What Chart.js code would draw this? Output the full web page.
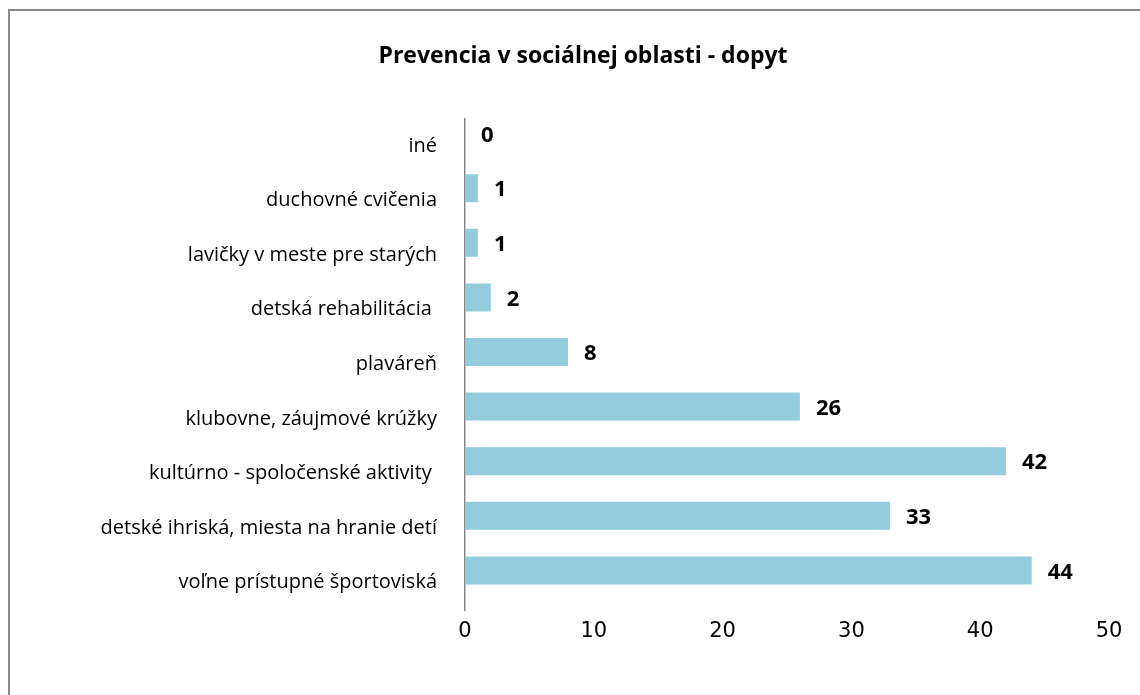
<!DOCTYPE html>
<html>
<head>
<meta charset="utf-8">
<script src="https://cdn.jsdelivr.net/npm/chart.js@4"></script>
<style>
    html, body { margin: 0; padding: 0; background: #fff; overflow: hidden; }
    #frame {
        position: absolute; left: 8px; top: 9px; width: 1300px; height: 800px;
        border-left: 2px solid #878787; border-top: 2px solid #878787;
    }
    #wrap { position: absolute; left: 0; top: 0; width: 1140px; height: 695px; }
</style>
</head>
<body>
<div id="frame"></div>
<div id="wrap"><canvas id="demandChart"></canvas></div>
<script>
// prevencia - dopyt
const activities = [
    "iné",
    "duchovné cvičenia",
    "lavičky v meste pre starých",
    "detská rehabilitácia ",
    "plaváreň",
    "klubovne, záujmové krúžky",
    "kultúrno - spoločenské aktivity ",
    "detské ihriská, miesta na hranie detí",
    "voľne prístupné športoviská"
];
const demand = [0, 1, 1, 2, 8, 26, 42, 33, 44];
const emptySeries = [null, null, null, null, null, null, null, null, null];
const xTicksMin = 0;
const xTicksMax = 50;
const xTicksStep = 10;
const chartTitle = "Prevencia v sociálnej oblasti - dopyt";

const textFont = "'Open Sans', Lato, sans-serif";

// numbers printed next to each bar
const valueLabels = {
    id: 'valueLabels',
    afterDatasetsDraw(chart) {
        const ctx = chart.ctx;
        const meta = chart.getDatasetMeta(0);
        ctx.save();
        ctx.font = 'bold 22px ' + textFont;
        ctx.fillStyle = '#000';
        ctx.textAlign = 'left';
        ctx.textBaseline = 'middle';
        meta.data.forEach((bar, i) => {
            ctx.fillText(String(demand[i]), bar.x + 16, bar.y + 2);
        });
        ctx.restore();
    }
};

function createChart() {
    const ctx = document.getElementById('demandChart').getContext('2d');

    new Chart(ctx, {
        type: 'bar',
        data: {
            labels: activities,
            datasets: [{
                label: 'dopyt',
                data: demand,
                backgroundColor: '#93cddd',
                borderWidth: 0,
                categoryPercentage: 0.9,
                barPercentage: 1.14
            }, {
                // empty second series, keeps the bars in the upper half of each row
                label: '',
                data: emptySeries,
                backgroundColor: '#93cddd',
                categoryPercentage: 0.9,
                barPercentage: 1.14
            }]
        },
        options: {
            indexAxis: 'y',
            responsive: true,
            maintainAspectRatio: false,
            animation: false,
            layout: {
                padding: { left: 57, right: 31, top: 30, bottom: 0 }
            },
            plugins: {
                legend: { display: false },
                tooltip: { enabled: false },
                title: {
                    display: true,
                    text: chartTitle,
                    color: '#000',
                    font: { family: textFont, size: 23, weight: 'bold' },
                    padding: { top: 13, bottom: 48 }
                }
            },
            scales: {
                x: {
                    min: xTicksMin,
                    max: xTicksMax,
                    grid: { display: false, drawTicks: false },
                    border: { display: false },
                    ticks: {
                        stepSize: xTicksStep,
                        color: '#000',
                        padding: 9,
                        font: { family: "'DejaVu Sans', sans-serif", size: 21 }
                    },
                    afterFit(scale) { scale.height = 85; }
                },
                y: {
                    grid: { display: false, drawTicks: false },
                    border: { display: true, color: '#868686', width: 1.5 },
                    ticks: {
                        color: '#000',
                        padding: 28,
                        font: { family: textFont, size: 20 }
                    },
                    afterFit(scale) { scale.width = 408; }
                }
            }
        },
        plugins: [valueLabels]
    });
}

window.addEventListener("load", createChart);
</script>
</body>
</html>
